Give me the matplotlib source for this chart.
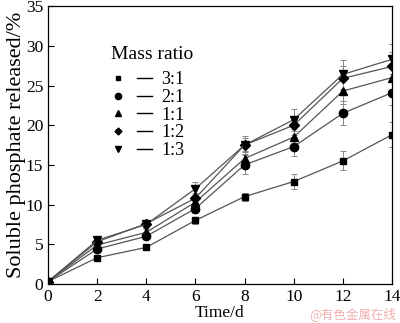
import matplotlib.pyplot as plt
import numpy as np
from matplotlib.lines import Line2D
from matplotlib.legend_handler import HandlerTuple

plt.rcParams['font.family'] = ['Liberation Serif', 'DejaVu Serif']

# time (days)
days = [0, 2, 4, 6, 8, 10, 12, 14]

# soluble phosphate released (%) for each mass ratio
r31 = [0.3, 3.3, 4.6, 8.0, 11.0, 12.9, 15.5, 18.8]
r21 = [0.3, 4.4, 6.0, 9.5, 15.0, 17.3, 21.5, 24.1]
r11 = [0.3, 4.9, 6.5, 10.3, 15.8, 18.5, 24.3, 26.0]
r12 = [0.3, 5.3, 7.6, 10.8, 17.5, 20.0, 25.9, 27.4]
r13 = [0.3, 5.5, 7.5, 12.0, 17.5, 20.7, 26.4, 28.3]

# error bars
e31 = [0, 0.3, 0.3, 0.4, 0.5, 1.0, 1.2, 1.6]
e21 = [0, 0.3, 0.4, 0.6, 1.2, 1.2, 1.5, 1.6]
e11 = [0, 0.3, 0.4, 0.6, 0.9, 1.0, 1.6, 1.5]
e12 = [0, 0.3, 0.4, 0.6, 0.9, 1.2, 1.5, 1.8]
e13 = [0, 0.3, 0.4, 0.8, 1.1, 1.4, 1.8, 1.9]

labels = ['3:1', '2:1', '1:1', '1:2', '1:3']
markers = ['s', 'o', '^', 'D', 'v']
msizes = [5, 6, 6, 5, 6]

fig = plt.figure(figsize=(4.0, 3.23), dpi=100)
ax = fig.add_axes([0.12, 0.121, 0.86, 0.86])

series = [(r31, e31), (r21, e21), (r11, e11), (r12, e12), (r13, e13)]
handles = []
for (vals, errs), lab, m, ms in zip(series, labels, markers, msizes):
    ax.errorbar(days, vals, yerr=errs, color='#555555', lw=0.9, elinewidth=0.7,
                capsize=2.5, capthick=0.7, marker=m, markersize=ms,
                markerfacecolor='black', markeredgecolor='black', ecolor='#888888')
    h_marker = Line2D([], [], marker=m, markersize=ms - 1.5, color='black', linestyle='none')
    h_line = Line2D([], [], color='black', lw=1.0)
    handles.append((h_marker, h_line))

leg = ax.legend(handles, labels, title='Mass ratio', frameon=False,
                handler_map={tuple: HandlerTuple(ndivide=None, pad=0.6)},
                handlelength=2.3, handletextpad=0.5, labelspacing=0.04,
                fontsize=13, title_fontsize=14, loc='upper left',
                bbox_to_anchor=(0.135, 0.915))
leg._legend_box.align = 'left'
leg._legend_box.sep = 6

ax.set_xlim(0, 14)
ax.set_ylim(0, 35)
ax.set_xticks(range(0, 15, 2))
ax.set_yticks(range(0, 36, 5))
ax.tick_params(direction='in', labelsize=12.5, length=4, width=0.8)
for s in ax.spines.values():
    s.set_linewidth(0.9)

ax.set_xlabel('Time/d', fontsize=12.5, labelpad=0)
ax.set_ylabel('Soluble phosphate released/%', fontsize=16, labelpad=0)

fig.text(0.99, 0.005, '@有色金属在线', color='#f0b0b0', fontsize=9,
         ha='right', va='bottom', family=['Noto Sans CJK SC', 'DejaVu Sans'])

fig.savefig('out.png', dpi=100)
